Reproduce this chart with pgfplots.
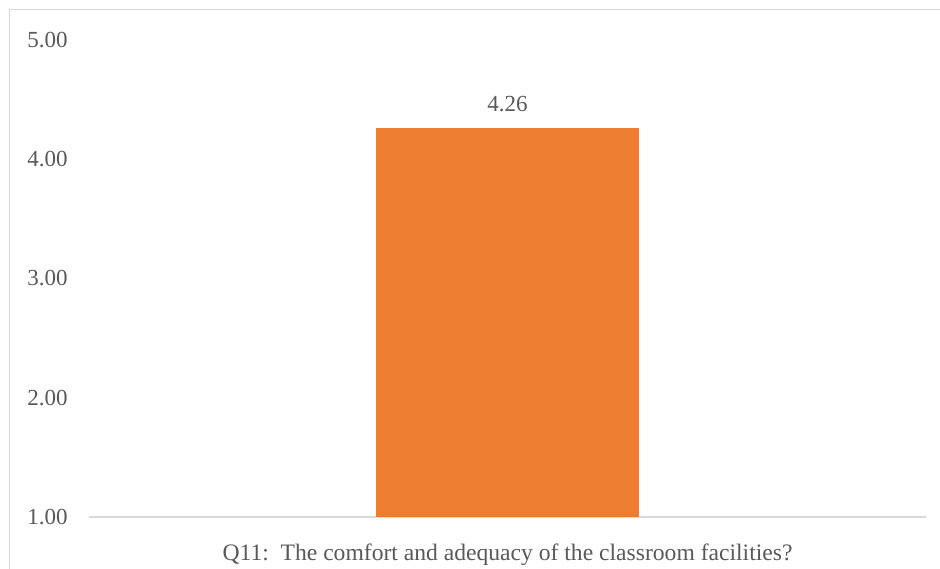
\documentclass[border=0pt]{standalone}
\usepackage{pgfplots}
\pgfplotsset{compat=1.18}
\usepackage{fontspec}
\setmainfont{Liberation Serif}
\definecolor{barorange}{HTML}{ED7D31}
\definecolor{txtgray}{HTML}{595959}
\definecolor{linegray}{HTML}{D9D9D9}
\begin{document}
\begin{tikzpicture}[x=1bp,y=1bp]
\useasboundingbox (0,0) rectangle (940,569);
\fill[white] (0,0) rectangle (940,569);
\draw[linegray, line width=1.5bp] (9.5,0) -- (9.5,559.5) -- (940,559.5);
\begin{axis}[
  at={(89bp,52bp)}, anchor=south west,
  scale only axis, width=837bp, height=477bp,
  ymin=1, ymax=5, xmin=-1.5, xmax=1.5,
  ytick={1,2,3,4,5},
  xtick={0}, xticklabels={Q11:\ \ The comfort and adequacy of the classroom facilities?},
  axis lines=left,
  axis line style={-},
  y axis line style={draw=none},
  x axis line style={linegray, line width=1.5bp},
  major tick style={draw=none},
  font=\fontsize{23bp}{27bp}\selectfont,
  tick label style={text=txtgray, font=\fontsize{23bp}{27bp}\selectfont},
  yticklabel style={anchor=east, inner sep=0pt, xshift=-19bp,
    /pgf/number format/fixed, /pgf/number format/fixed zerofill,
    /pgf/number format/precision=2, /pgf/number format/assume math mode=true},
  xticklabel style={anchor=north, inner sep=0pt, yshift=-22bp, font=\fontsize{23.6bp}{27bp}\selectfont},
  ybar, bar width=0.943,
  nodes near coords,
  nodes near coords style={text=txtgray, anchor=south, inner sep=0pt, yshift=16bp, font=\fontsize{23bp}{27bp}\selectfont,
    /pgf/number format/fixed, /pgf/number format/fixed zerofill, /pgf/number format/precision=2, /pgf/number format/assume math mode=true},
]
\addplot[fill=barorange, draw=none] coordinates {(0,4.26)};
\end{axis}
\end{tikzpicture}
\end{document}
